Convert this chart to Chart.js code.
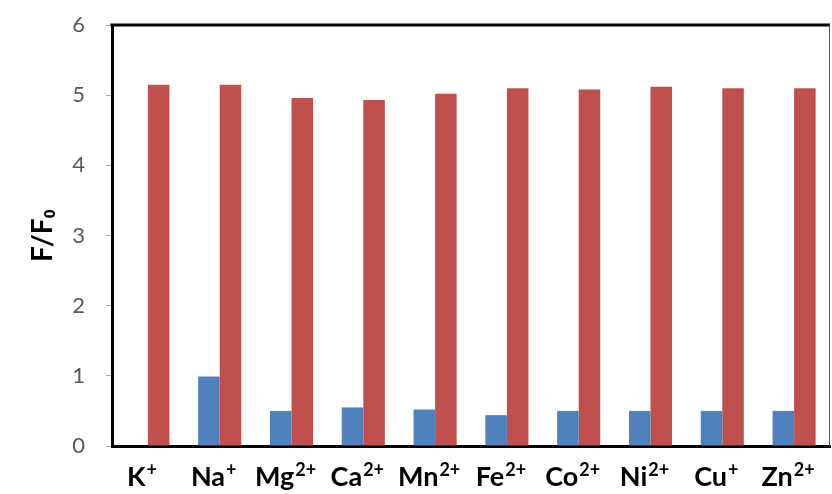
<!DOCTYPE html>
<html>
<head>
<meta charset="utf-8">
<script src="https://cdn.jsdelivr.net/npm/chart.js@4"></script>
<style>
  html, body { margin: 0; padding: 0; background: #fff; }
  #wrap { width: 832px; height: 494px; }
</style>
</head>
<body>
<div id="wrap"><canvas id="myChart" width="832" height="494"></canvas></div>
<script>
// chart data
const ionSymbols = ['K', 'Na', 'Mg', 'Ca', 'Mn', 'Fe', 'Co', 'Ni', 'Cu', 'Zn'];
const ionCharges = ['+', '+', '2+', '2+', '2+', '2+', '2+', '2+', '+', '2+'];
const blueValues = [0, 0.99, 0.50, 0.55, 0.52, 0.44, 0.50, 0.50, 0.50, 0.50];
const redValues = [5.15, 5.15, 4.96, 4.93, 5.02, 5.10, 5.08, 5.12, 5.10, 5.10];
const yTicks = [0, 1, 2, 3, 4, 5, 6];

const labels = ionSymbols.map((s, i) => s + ionCharges[i]);

// frame top/right edges + ion labels with real superscripts
const extras = {
    id: 'extras',
    afterDraw(chart) {
        const a = chart.chartArea;
        const c = chart.ctx;
        c.save();
        c.strokeStyle = '#000';
        c.lineWidth = 3;
        c.beginPath();
        c.moveTo(a.left - 1.5, a.top);
        c.lineTo(a.right, a.top);
        c.stroke();
        c.strokeStyle = '#555';
        c.lineWidth = 1;
        c.beginPath();
        c.moveTo(a.right - 0.5, a.top);
        c.lineTo(a.right - 0.5, a.bottom);
        c.stroke();

        // x labels
        const xs = chart.scales.x;
        const baseFont = 'bold 27px Lato';
        const supFont = 'bold 18px Lato';
        const y = a.bottom + 40;
        c.fillStyle = '#000';
        c.textBaseline = 'alphabetic';
        c.textAlign = 'left';
        ionSymbols.forEach((sym, i) => {
            c.font = baseFont;
            const w1 = c.measureText(sym).width;
            c.font = supFont;
            const w2 = c.measureText(ionCharges[i]).width;
            const x0 = xs.getPixelForTick(i) - 6 - (w1 + w2 + 1) / 2;
            c.font = baseFont;
            c.fillText(sym, x0, y);
            c.font = supFont;
            c.fillText(ionCharges[i], x0 + w1 + 1, y - 10);
        });
        c.restore();
    }
};

const ctx = document.getElementById('myChart').getContext('2d');
new Chart(ctx, {
    type: 'bar',
    data: {
        labels: labels,
        datasets: [
            { data: blueValues, backgroundColor: '#4F81BD' },
            { data: redValues, backgroundColor: '#C0504D' }
        ]
    },
    options: {
        responsive: false,
        animation: false,
        layout: { padding: { top: 25, right: 2, left: 0, bottom: 0 } },
        datasets: { bar: { categoryPercentage: 0.6, barPercentage: 1.0 } },
        plugins: { legend: { display: false }, tooltip: { enabled: false } },
        scales: {
            x: {
                grid: { display: false },
                border: { display: true, color: '#000', width: 3 },
                ticks: { display: false },
                afterFit(scale) { scale.height = 48; }
            },
            y: {
                min: 0, max: 6,
                afterBuildTicks(scale) { scale.ticks = yTicks.map(v => ({ value: v })); },
                grid: { drawOnChartArea: false, drawTicks: true, tickLength: 6, color: '#a6a6a6' },
                border: { display: true, color: '#000', width: 3 },
                ticks: {
                    color: '#595959',
                    font: { family: 'Lato', size: 22 },
                    padding: 21
                },
                title: {
                    display: true,
                    text: 'F/F₀',
                    color: '#000',
                    font: { family: 'Lato', size: 28, weight: 'bold' },
                    padding: { top: 26, bottom: 0 }
                },
                afterFit(scale) {
                    scale.width = 112;
                    scale.paddingTop = 12;
                    scale.paddingBottom = 12;
                }
            }
        }
    },
    plugins: [extras]
});
</script>
</body>
</html>
